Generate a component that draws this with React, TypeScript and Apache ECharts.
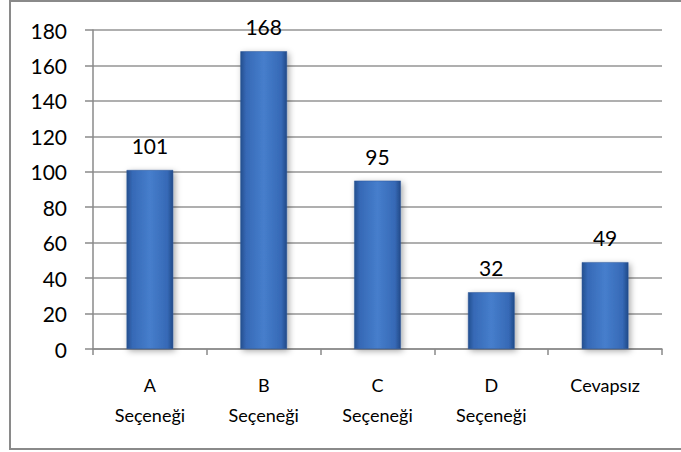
import React, { useEffect, useRef } from "react";
import * as echarts from "echarts";

const categories = ["A\nSeçeneği", "B\nSeçeneği", "C\nSeçeneği", "D\nSeçeneği", "Cevapsız"];
const values = [101, 168, 95, 32, 49];
const yMin = 0;
const yMax = 180;
const yStep = 20;

export default function App() {
  const ref = useRef<HTMLDivElement>(null);
  useEffect(() => {
    if (!ref.current) return;
    const chart = echarts.init(ref.current, null, { renderer: "svg" });
    const font = "Lato, 'Open Sans', sans-serif";
    chart.setOption({
      animation: false,
      backgroundColor: "#ffffff",
      textStyle: { fontFamily: font, color: "#000" },
      graphic: [
        {
          type: "rect",
          shape: { x: 10, y: 1, width: 700, height: 448 },
          style: { fill: "none", stroke: "#8a8a8a", lineWidth: 2 },
          silent: true,
          z: -1,
        },
      ],
      grid: { left: 93, top: 30, right: 19, bottom: 103, containLabel: false },
      xAxis: {
        type: "category",
        data: categories,
        axisLine: { show: true, lineStyle: { color: "#8a8a8a", width: 1.5 } },
        axisTick: { show: true, alignWithLabel: false, length: 6, lineStyle: { color: "#8a8a8a", width: 1.5 } },
        axisLabel: {
          color: "#000",
          fontFamily: font,
          fontSize: 18,
          lineHeight: 30,
          margin: 21,
          interval: 0,
        },
        splitLine: { show: false },
      },
      yAxis: {
        type: "value",
        min: yMin,
        max: yMax,
        interval: yStep,
        axisLine: { show: true, lineStyle: { color: "#8a8a8a", width: 1.5 } },
        axisTick: { show: true, length: 8, lineStyle: { color: "#8a8a8a", width: 1.5 } },
        axisLabel: { color: "#000", fontFamily: font, fontSize: 21, margin: 26 },
        splitLine: { show: true, lineStyle: { color: "#959595", width: 1.5 } },
      },
      series: [
        {
          type: "bar",
          data: values,
          barCategoryGap: "59%",
          itemStyle: {
            color: new echarts.graphic.LinearGradient(0, 0, 1, 0, [
              { offset: 0, color: "#244f8f" },
              { offset: 0.12, color: "#3669b6" },
              { offset: 0.5, color: "#467ecc" },
              { offset: 0.88, color: "#3669b6" },
              { offset: 1, color: "#214a88" },
            ]),
            borderColor: "#2a5596",
            borderWidth: 0.5,
            shadowColor: "rgba(0,0,0,0.35)",
            shadowBlur: 6,
            shadowOffsetX: 2,
            shadowOffsetY: 2,
          },
          label: {
            show: true,
            position: "top",
            distance: 14,
            color: "#000",
            fontFamily: font,
            fontSize: 21,
          },
        },
      ],
    });
    return () => chart.dispose();
  }, []);
  return (
    <div
      ref={ref}
      style={{ position: "fixed", left: 0, top: 0, width: 681, height: 452 }}
    />
  );
}
